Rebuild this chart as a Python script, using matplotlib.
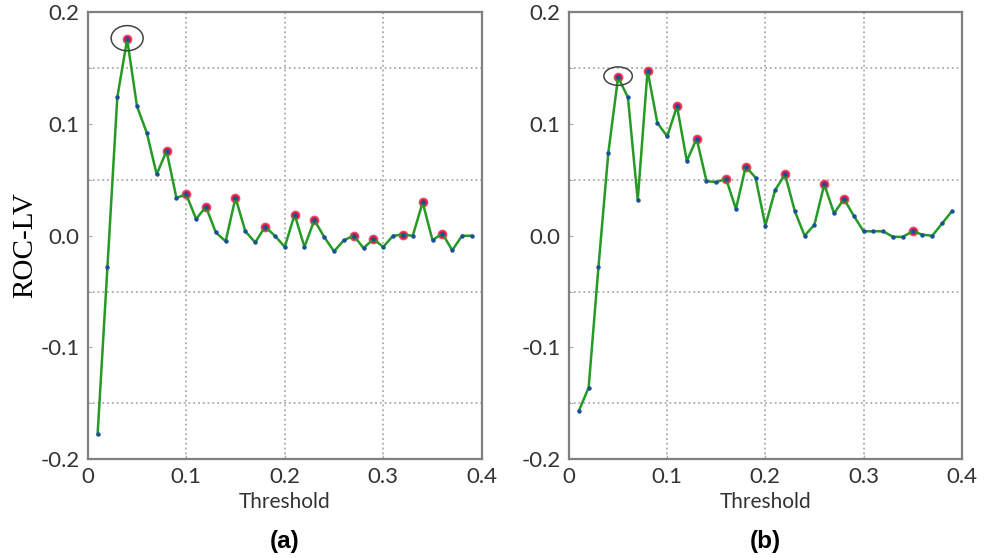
import matplotlib
matplotlib.use("Agg")
import matplotlib.pyplot as plt
from matplotlib.patches import Ellipse

thresholds = [round(0.01 * i, 2) for i in range(1, 40)]

roc_lv_a = [-0.178, -0.028, 0.124, 0.176, 0.116, 0.092, 0.055, 0.076, 0.034, 0.037,
            0.015, 0.026, 0.003, -0.005, 0.034, 0.004, -0.006, 0.008, 0.0, -0.010,
            0.019, -0.010, 0.014, -0.001, -0.014, -0.004, 0.0, -0.011, -0.003, -0.010,
            0.0, 0.001, 0.0, 0.030, -0.004, 0.002, -0.013, 0.0, 0.0]
peaks_a = [0.04, 0.08, 0.10, 0.12, 0.15, 0.18, 0.21, 0.23, 0.27, 0.29, 0.32, 0.34, 0.36]
circled_a = 0.04

roc_lv_b = [-0.157, -0.136, -0.028, 0.074, 0.142, 0.124, 0.032, 0.148, 0.101, 0.089,
            0.116, 0.067, 0.087, 0.049, 0.048, 0.051, 0.024, 0.062, 0.052, 0.009,
            0.041, 0.055, 0.022, 0.0, 0.010, 0.046, 0.020, 0.033, 0.018, 0.004,
            0.004, 0.004, -0.001, -0.001, 0.004, 0.001, 0.0, 0.011, 0.022]
peaks_b = [0.05, 0.08, 0.11, 0.13, 0.16, 0.18, 0.22, 0.26, 0.28, 0.35]
circled_b = 0.05

xticks = [0, 0.1, 0.2, 0.3, 0.4]
xticklabels = ["0", "0.1", "0.2", "0.3", "0.4"]
yticks = [-0.2, -0.1, 0.0, 0.1, 0.2]
yticklabels = ["-0.2", "-0.1", "0.0", "0.1", "0.2"]

fig = plt.figure(figsize=(9.87, 5.58), dpi=100)
ax_a = fig.add_axes([0.0889, 0.1774, 0.3992, 0.8002])
ax_b = fig.add_axes([0.5765, 0.1774, 0.3979, 0.8002])


def draw(ax, y, peaks, circled, ell_w, ell_h, tag):
    py = [y[thresholds.index(p)] for p in peaks]
    ax.plot(peaks, py, 'o', color='#e0183f', ms=6, mec='#ee4a6c', zorder=2)
    ax.plot(thresholds, y, '-', color='#259a25', lw=1.8, zorder=3)
    ax.plot(thresholds, y, 'o', color='#1a4f9a', ms=3.2, mec='none', zorder=4)
    cy = y[thresholds.index(circled)]
    ax.add_patch(Ellipse((circled, cy + 0.001), ell_w, ell_h, fill=False,
                         ec='#444444', lw=1.1, zorder=5))

    ax.set_xlim(0, 0.4)
    ax.set_ylim(-0.2, 0.2)
    ax.set_xticks(xticks, xticklabels)
    ax.set_yticks(yticks, yticklabels)
    ax.set_xticks([0.05 * i for i in range(9)], minor=True)
    ax.set_yticks([-0.2 + 0.05 * i for i in range(9)], minor=True)
    ax.grid(True, which='major', axis='x', ls=':', color='#aaaaaa', lw=1.3)
    ax.grid(True, which='minor', axis='y', ls=':', color='#aaaaaa', lw=1.3)
    ax.tick_params(which='both', direction='in', length=3, color='#aaaaaa')
    ax.tick_params(which='minor', axis='x', length=0)
    ax.tick_params(labelsize=16, labelcolor='#333333', pad=6)
    for lab in ax.get_xticklabels() + ax.get_yticklabels():
        lab.set_family('Lato')
    for s in ax.spines.values():
        s.set_color('#808080')
        s.set_linewidth(1.6)
    ax.set_xlabel('Threshold', fontsize=15, color='#333333', family='Lato', labelpad=3)
    ax.text(0.5, -0.185, tag, transform=ax.transAxes, ha='center', va='center',
            fontsize=17.5, fontweight='bold', family='Liberation Sans')


draw(ax_a, roc_lv_a, peaks_a, circled_a, 0.0325, 0.0225, '(a)')
draw(ax_b, roc_lv_b, peaks_b, circled_b, 0.029, 0.0165, '(b)')

ax_a.set_ylabel('ROC-LV', fontsize=21, family='Liberation Serif')
ax_a.yaxis.set_label_coords(-0.125, 0.48)

fig.savefig('out.png', dpi=100)
